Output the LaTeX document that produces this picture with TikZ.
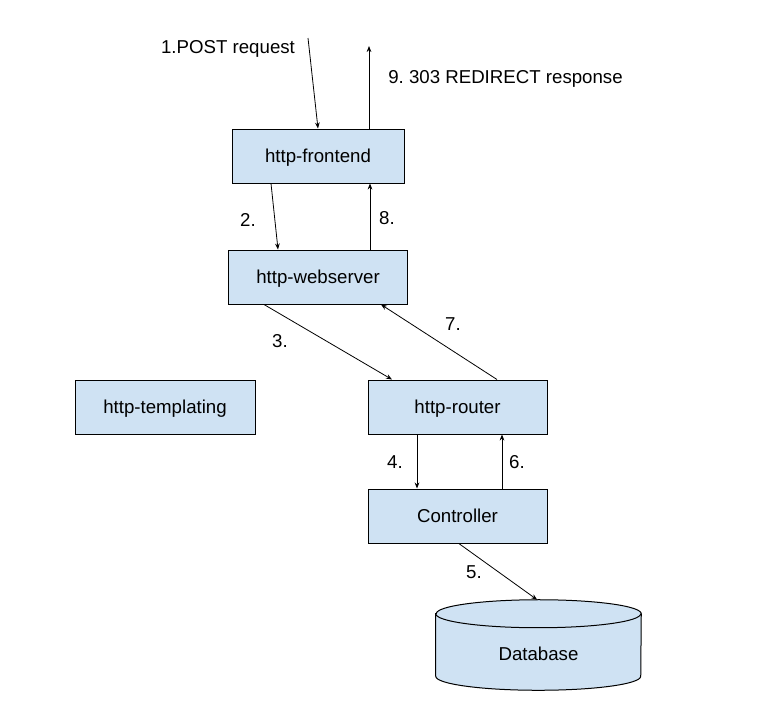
\documentclass[tikz,border=0pt]{standalone}
\usepackage{fontspec}
\setmainfont{Liberation Sans}
\usepackage{tikz}
\definecolor{bb}{RGB}{207, 226, 243}
\usetikzlibrary{positioning}
\usetikzlibrary{arrows.meta}

\begin{document}
\begin{tikzpicture}
		[x=0.75pt,y=-0.75pt,every node/.style={inner sep=0pt,font=\fontsize{14}{16}\selectfont},
		box/.style={rectangle, minimum width=134.25pt, minimum height=40.5pt, text height=1.15em, text depth=0.11em, fill=bb, line width=0.75pt, draw=black},
		arr/.style={line width=0.6pt, color=black, -{Stealth[length=4.5pt,width=3.5pt]}}]
		\useasboundingbox (0,0) rectangle (768,719);
		\node (frontend) [box, minimum width=129pt] at (318, 156)  {http-frontend};
		\node (webserver) [box] at (318, 277)  {http-webserver};
		\node (templating) [box, minimum width=135pt] at (165, 407)  {http-templating};
		\node (router) [box] at (457.5, 407)  {http-router};
		\node (controller) [box] at (457.5, 516)  {Controller};
		\node (database) [minimum width=153.75pt, minimum height=67.5pt] at (538.5, 645)  {};
		\draw [fill=bb, line width=0.75pt] ([yshift=-10.5pt]database.north west) -- ([yshift=10.5pt]database.south west)
			arc[start angle=180, end angle=360, x radius=76.875pt, y radius=10.5pt] -- ([yshift=-10.5pt]database.north east)
			arc[start angle=0, end angle=180, x radius=76.875pt, y radius=10.5pt] -- cycle;
		\draw [line width=0.75pt] ([yshift=-10.5pt]database.north west) arc[start angle=180, end angle=360, x radius=76.875pt, y radius=10.5pt];
		\node (dbtext) at (538.5, 654) {Database};
		\coordinate (in) at (308, 38);
		\coordinate (out) at (369, 46);
		\draw [arr] (in) to (frontend.north);
		\draw [arr] ([xshift=38.25pt]frontend.north) to (out);
		\draw [arr] ([xshift=-35.25pt]frontend.south) to ([xshift=-30pt]webserver.north);
		\draw [arr] ([xshift=39pt]webserver.north) to ([xshift=39pt]frontend.south);
		\draw [arr] ([xshift=-40.5pt]webserver.south) to ([xshift=-49.125pt]router.north);
		\draw [arr] ([xshift=29.625pt]router.north) to ([xshift=47.25pt]webserver.south);
		\draw [arr] ([xshift=-30.375pt]router.south) to ([xshift=-30.375pt]controller.north);
		\draw [arr] ([xshift=33.375pt]controller.north) to ([xshift=33.375pt]router.south);
		\draw [arr] ([xshift=1pt]controller.south) to ([xshift=-1pt]database.north);
		\node (l1) at (228, 49) {1.POST request};
		\node (l9) [anchor=west] at (388, 79) {9.\ 303 REDIRECT response};
		\node (l2) at (248, 220) {2.};
		\node (l8) at (387, 218) {8.};
		\node (l3) at (280, 341) {3.};
		\node (l7) at (453, 324) {7.};
		\node (l4) at (395, 462) {4.};
		\node (l6) at (517, 462) {6.};
		\node (l5) at (474, 572) {5.};
\end{tikzpicture}
\end{document}
